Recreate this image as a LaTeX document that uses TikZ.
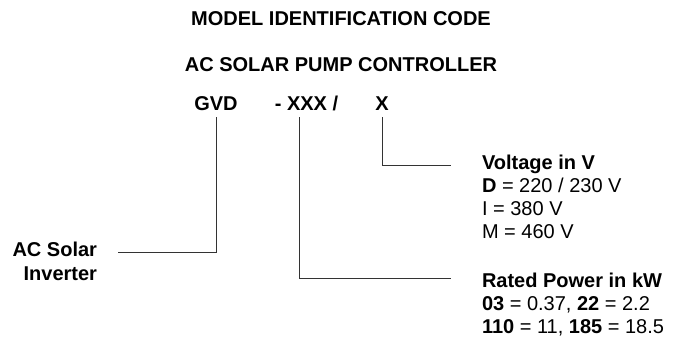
\documentclass[tikz,border=0pt]{standalone}
\usepackage{fontspec}
\setmainfont{Liberation Sans}
\begin{document}
\begin{tikzpicture}[x=1pt,y=-1pt,
  txt/.style={font=\fontsize{20}{23.3}\selectfont, inner sep=0pt, outer sep=0pt},
  btxt/.style={font=\fontsize{20}{23.3}\selectfont\bfseries, inner sep=0pt, outer sep=0pt},
  conn/.style={draw=black!80, line width=0.9pt}]
\useasboundingbox (0,0) rectangle (674,337);
\node[btxt,anchor=base] (title) at (341,26) {MODEL IDENTIFICATION CODE};
\node[btxt,anchor=base] (sub) at (341,71) {AC SOLAR PUMP CONTROLLER};
\node[btxt,anchor=base] (gvd) at (216,110) {GVD};
\node[btxt,anchor=base] (xxx) at (306.5,110) {- XXX /};
\node[btxt,anchor=base] (xv) at (382,110) {X};
\node[btxt,anchor=base east,align=right] (inv) at (97,280) {AC Solar\\Inverter};
\node[txt,anchor=base west,align=left] (volt) at (482,238.9)
  {\textbf{Voltage in V}\\\textbf{D} = 220 / 230 V\\I = 380 V\\M = 460 V};
\node[txt,anchor=base west,align=left] (rated) at (482,333.6)
  {\textbf{Rated Power in kW}\\\textbf{03} = 0.37, \textbf{22} = 2.2\\\textbf{110} = 11, \textbf{185} = 18.5};
\coordinate (acend) at (118,252);
\coordinate (voltend) at (451,165);
\coordinate (ratedend) at (451,278);
\draw[conn] ([yshift=-7pt]gvd.south) |- (acend);
\draw[conn] ([yshift=-7pt]gvd.south -| 299,0) |- (ratedend);
\draw[conn] ([yshift=-7pt]xv.south) |- (voltend);
\end{tikzpicture}
\end{document}
